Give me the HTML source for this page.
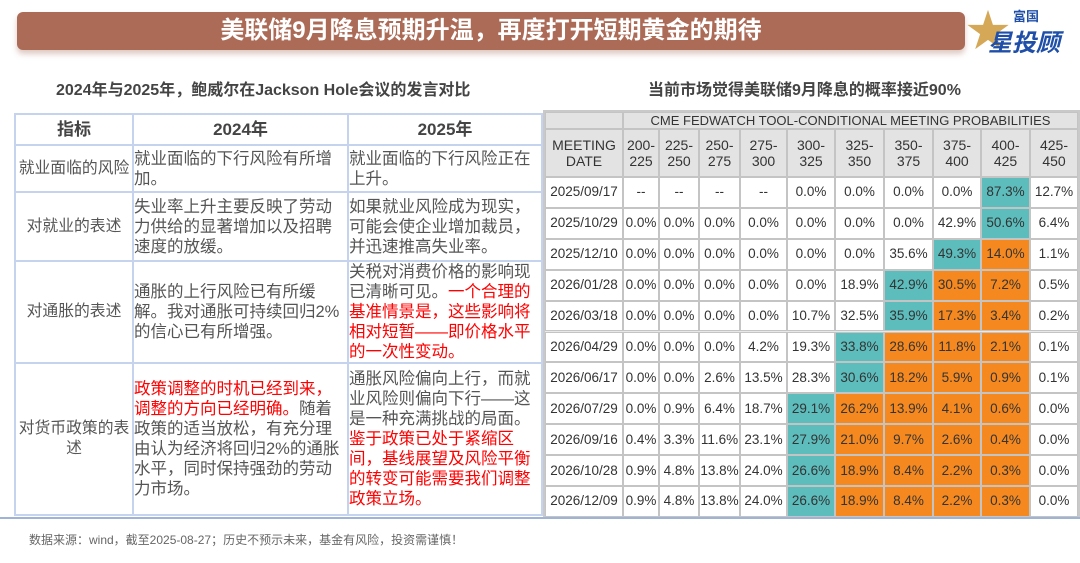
<!DOCTYPE html>
<html><head><meta charset="utf-8">
<style>
*{margin:0;padding:0;box-sizing:border-box}
body{width:1080px;height:563px;background:#fff;position:relative;overflow:hidden;font-family:"Liberation Sans","Noto Sans CJK SC",sans-serif;color:#555}
.abs{position:absolute}
#banner{left:17px;top:12px;width:948px;height:38px;background:#ac6b56;border-radius:6px;box-shadow:0 4px 6px rgba(160,100,80,.35);color:#fff;font-weight:bold;font-size:24px;line-height:38px;text-align:center}
.sub{top:76px;font-size:16px;font-weight:bold;color:#444}
#lt{position:absolute;left:14px;top:113px;width:527px;border-collapse:collapse;table-layout:fixed;font-size:16.5px;line-height:20px;color:#555}
#lt td,#lt th{border:2px solid #c5d3ee;vertical-align:middle;padding:0;overflow:hidden}
#lt td.k{font-size:15.8px;text-align:center}
#lt th{font-size:17px;color:#444;height:31px}
.red{color:#f00}
#rt{left:543px;top:110px;width:537px;height:407px;background:#e8e8e8;border:2px solid #c9c9c9}
.c{position:absolute;display:flex;align-items:center;justify-content:center;text-align:center;font-size:13.5px;color:#333;border:1px solid #c4c4c4;line-height:16px;white-space:nowrap}
</style></head><body>
<div id="banner" class="abs">美联储9月降息预期升温，再度打开短期黄金的期待</div>
<div class="abs" style="left:966px;top:6px;width:110px;height:50px">
  <div class="abs" style="left:0;top:4px;font-size:44px;color:#d4a856;line-height:44px">★</div>
  <div class="abs" style="left:47px;top:0;font-size:13px;font-weight:bold;color:#1f4fa8">富国</div>
  <div class="abs" style="left:22px;top:17px;font-size:24px;font-weight:bold;color:#1f4fa8;font-style:italic">星投顾</div>
</div>
<div class="abs sub" style="left:56px">2024年与2025年，鲍威尔在Jackson Hole会议的发言对比</div>
<div class="abs sub" style="left:648px">当前市场觉得美联储9月降息的概率接近90%</div>

<table id="lt">
<colgroup><col style="width:118px"><col style="width:215px"><col style="width:194px"></colgroup>
<tr><th>指标</th><th>2024年</th><th>2025年</th></tr>
<tr style="height:47px"><td class="k">就业面临的风险</td><td>就业面临的下行风险有所增加。</td><td>就业面临的下行风险正在上升。</td></tr>
<tr style="height:69px"><td class="k">对就业的表述</td><td>失业率上升主要反映了劳动力供给的显著增加以及招聘速度的放缓。</td><td>如果就业风险成为现实，可能会使企业增加裁员，并迅速推高失业率。</td></tr>
<tr style="height:102px"><td class="k">对通胀的表述</td><td>通胀的上行风险已有所缓解。我对通胀可持续回归2%的信心已有所增强。</td><td>关税对消费价格的影响现已清晰可见。<span class="red">一个合理的基准情景是，这些影响将相对短暂——即价格水平的一次性变动。</span></td></tr>
<tr style="height:152px"><td class="k">对货币政策的表述</td><td><span class="red">政策调整的时机已经到来，调整的方向已经明确。</span>随着政策的适当放松，有充分理由认为经济将回归2%的通胀水平，同时保持强劲的劳动力市场。</td><td>通胀风险偏向上行，而就业风险则偏向下行——这是一种充满挑战的局面。<span class="red">鉴于政策已处于紧缩区间，基线展望及风险平衡的转变可能需要我们调整政策立场。</span></td></tr>
</table>

<div id="rt" class="abs"></div>
<div class="abs" style="left:0;top:517px;width:1080px;height:2px;background:#9fb3d6"></div>
<div class="abs" style="left:29px;top:531px;font-size:12px;color:#666">数据来源：wind，截至2025-08-27；历史不预示未来，基金有风险，投资需谨慎！</div>

<script>
const ranges = ["200-225","225-250","250-275","275-300","300-325","325-350","350-375","375-400","400-425","425-450"];
const dates = ["2025/09/17","2025/10/29","2025/12/10","2026/01/28","2026/03/18","2026/04/29","2026/06/17","2026/07/29","2026/09/16","2026/10/28","2026/12/09"];
const r0 = [null,null,null,null,0.0,0.0,0.0,0.0,87.3,12.7];
const r1 = [0.0,0.0,0.0,0.0,0.0,0.0,0.0,42.9,50.6,6.4];
const r2 = [0.0,0.0,0.0,0.0,0.0,0.0,35.6,49.3,14.0,1.1];
const r3 = [0.0,0.0,0.0,0.0,0.0,18.9,42.9,30.5,7.2,0.5];
const r4 = [0.0,0.0,0.0,0.0,10.7,32.5,35.9,17.3,3.4,0.2];
const r5 = [0.0,0.0,0.0,4.2,19.3,33.8,28.6,11.8,2.1,0.1];
const r6 = [0.0,0.0,2.6,13.5,28.3,30.6,18.2,5.9,0.9,0.1];
const r7 = [0.0,0.9,6.4,18.7,29.1,26.2,13.9,4.1,0.6,0.0];
const r8 = [0.4,3.3,11.6,23.1,27.9,21.0,9.7,2.6,0.4,0.0];
const r9 = [0.9,4.8,13.8,24.0,26.6,18.9,8.4,2.2,0.3,0.0];
const r10 = [0.9,4.8,13.8,24.0,26.6,18.9,8.4,2.2,0.3,0.0];
const rows = [r0,r1,r2,r3,r4,r5,r6,r7,r8,r9,r10];
const currentIdx = 8;

const T = document.getElementById('rt');
const colX = [0,78,114,154,195,242,290,339,388,436,485,533];
const headTop = 0, head2Top = 17, dataTop = 65, rowH = 30.9;
function cell(x,y,w,h,txt,bg,name){
  const d=document.createElement('div');
  d.className='c';
  d.style.left=x+'px';d.style.top=y+'px';d.style.width=w+'px';d.style.height=h+'px';
  d.style.background=bg;
  d.innerHTML=txt;
  
  
  T.appendChild(d);
  return d;
}
cell(0,headTop,colX[1],17,'','#e3e3e3','corner-cell');
const tt=cell(colX[1],headTop,colX[11]-colX[1],17,'CME FEDWATCH TOOL-CONDITIONAL MEETING PROBABILITIES','#e3e3e3','table-title');
tt.style.fontSize='13px';
const md=cell(0,head2Top,colX[1],dataTop-head2Top,'MEETING<br>DATE','#e3e3e3','meeting-date-header');
md.style.fontSize='14px';
ranges.forEach((r,i)=>{
  const p=r.split('-');
  const h=cell(colX[i+1],head2Top,colX[i+2]-colX[i+1],dataTop-head2Top,p[0]+'-<br>'+p[1],'#e3e3e3','range-header-'+r);
  h.style.fontSize='14px';
});
dates.forEach((d,ri)=>{
  const y=dataTop+ri*rowH;
  cell(0,y,colX[1],rowH,d,'#fff','date-'+d.replace(/\//g,'-'));
  const vals=rows[ri];
  let mx=-1,mi=0;
  vals.forEach((v,i)=>{if(v!==null&&v>mx){mx=v;mi=i;}});
  vals.forEach((v,i)=>{
    let bg='#fff';
    if(i===mi) bg='#5dbdbd';
    else if(i>mi && i<=currentIdx) bg='#f5891f';
    cell(colX[i+1],y,colX[i+2]-colX[i+1],rowH,v===null?'--':v.toFixed(1)+'%',bg,'prob-cell');
  });
});
</script>
</body></html>
